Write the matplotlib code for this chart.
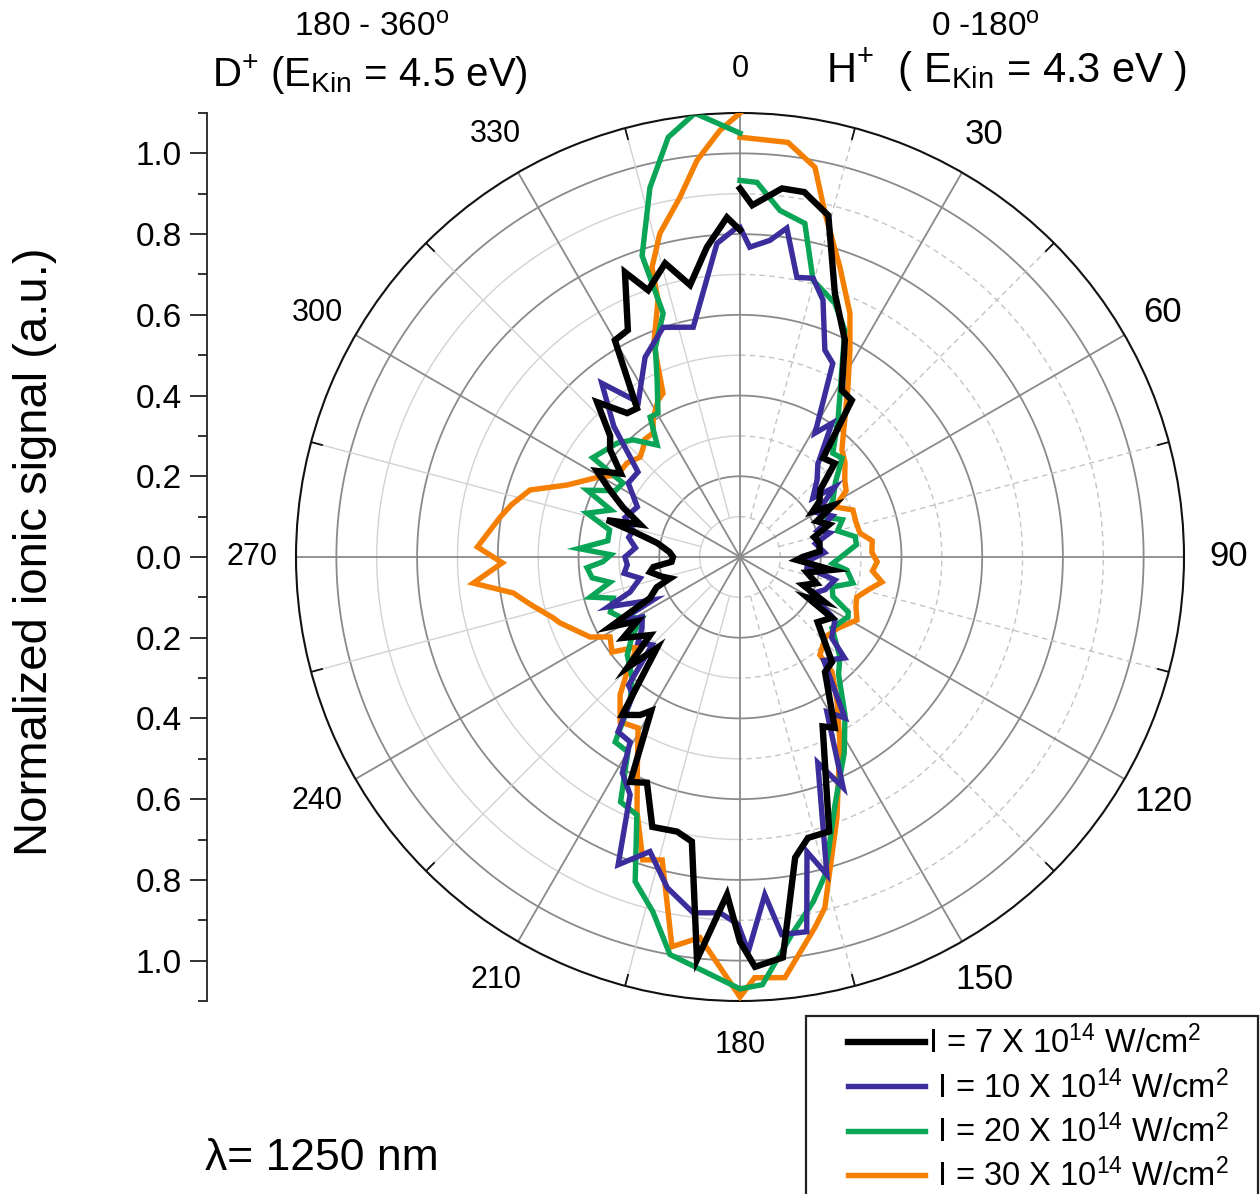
import numpy as np
import matplotlib
matplotlib.use('Agg')
import matplotlib.pyplot as plt
from matplotlib.ticker import FuncFormatter
from matplotlib.patches import Rectangle

plt.rcParams['font.family'] = ['Liberation Sans', 'DejaVu Sans']
plt.rcParams['mathtext.fontset'] = 'custom'
plt.rcParams['mathtext.rm'] = 'Liberation Sans'
plt.rcParams['mathtext.it'] = 'Liberation Sans:italic'
plt.rcParams['mathtext.default'] = 'regular'

# --- data: angle (deg, clockwise from top) and normalized signal ---
theta_i7 = [0, 2, 6.5, 10, 14.5, 19.8, 25.8, 31.4, 35.5, 40, 45.3, 50, 55, 58, 61, 65, 70, 75, 80, 86,
            90, 93, 98, 103, 109, 114, 118, 121, 123.5, 130, 138.8, 143.5, 151, 154, 162, 166.4, 169.6,
            173.9, 177.9, 180, 182.2, 186.1, 189.6, 192.9, 198, 202.4, 206, 210, 212.3, 216.7, 222.4,
            225.5, 229, 235.3, 238, 241.7, 245.5, 250, 253, 256, 260.5, 263.4, 266, 270, 274, 279.6, 283,
            285.5, 288, 293, 297, 301, 305, 309.5, 313, 317.3, 321.9, 325.3, 330, 333.7, 338, 341, 345.7,
            349.6, 353.9, 357.8, 360]
r_i7 = [0.913, 0.872, 0.919, 0.918, 0.874, 0.694, 0.597, 0.484, 0.477, 0.32, 0.33, 0.26, 0.24, 0.212,
        0.264, 0.21, 0.235, 0.19, 0.2, 0.198, 0.155, 0.141, 0.23, 0.17, 0.2, 0.171, 0.237, 0.195, 0.273,
        0.251, 0.346, 0.354, 0.484, 0.467, 0.715, 0.716, 0.757, 0.998, 1.016, 0.953, 0.837, 1.003, 0.715,
        0.698, 0.703, 0.605, 0.62, 0.44, 0.463, 0.488, 0.305, 0.392, 0.295, 0.352, 0.3, 0.365, 0.245,
        0.22, 0.181, 0.2, 0.226, 0.216, 0.17, 0.166, 0.175, 0.208, 0.262, 0.342, 0.26, 0.315, 0.36,
        0.414, 0.36, 0.417, 0.44, 0.522, 0.453, 0.448, 0.62, 0.627, 0.761, 0.699, 0.751, 0.685, 0.772,
        0.842, 0.81]

theta_i10 = [0, 1.8, 5.4, 8.1, 11.5, 14.7, 17.9, 22.3, 25.6, 31.2, 34.5, 40, 45, 51, 53.6, 60, 66, 71,
             75, 80, 87, 93, 99, 103.6, 111, 117, 123.5, 131.4, 134, 141, 146.9, 150.7, 155.9, 159.3,
             164.7, 167.2, 169.9, 173.7, 175.8, 178.8, 180.3, 183.2, 187.5, 192.4, 197, 201.6, 204.8,
             208.6, 210.7, 214.9, 217.8, 221, 225, 230, 234, 238.5, 241.8, 243.7, 249.3, 252.3, 258, 262,
             266, 270, 275, 280, 284, 289, 296, 303.5, 309.8, 312.3, 316, 321.5, 326.7, 334.6, 341.5,
             348.5, 355.8, 359.5]
r_i10 = [0.817, 0.768, 0.788, 0.823, 0.707, 0.714, 0.669, 0.554, 0.532, 0.359, 0.402, 0.3, 0.27, 0.232,
         0.292, 0.22, 0.25, 0.204, 0.23, 0.19, 0.21, 0.17, 0.168, 0.242, 0.226, 0.2, 0.282, 0.303, 0.36,
         0.33, 0.476, 0.44, 0.626, 0.545, 0.816, 0.749, 0.943, 0.941, 0.839, 0.978, 0.91, 0.883, 0.889,
         0.839, 0.763, 0.82, 0.649, 0.609, 0.533, 0.528, 0.432, 0.421, 0.308, 0.33, 0.3, 0.284, 0.346,
         0.24, 0.349, 0.286, 0.253, 0.29, 0.28, 0.285, 0.26, 0.28, 0.273, 0.301, 0.283, 0.332, 0.329,
         0.368, 0.45, 0.55, 0.459, 0.548, 0.6, 0.581, 0.779, 0.817]

theta_i20 = [0, 2.6, 6.6, 11, 14.8, 20.5, 24.8, 30, 35.6, 41.8, 45.9, 52, 58.5, 64.8, 70, 75, 80, 84, 90,
             94, 97, 103, 108, 113, 117, 119, 127.7, 135, 140, 146.4, 152, 159, 165, 168, 172.2, 177,
             180, 185, 190, 193.8, 197.9, 201.8, 206, 209.9, 214, 217.2, 222, 229, 234, 238, 243, 247,
             252, 255, 259, 262, 266, 268, 271, 273, 277, 281.7, 286, 290, 293.6, 298, 302.3, 304, 312.8,
             317.6, 323.5, 327.3, 330.3, 334.9, 338, 342.5, 342, 346.3, 350.3, 354.2, 360]
r_i20 = [0.933, 0.929, 0.864, 0.842, 0.709, 0.671, 0.619, 0.5, 0.417, 0.345, 0.352, 0.3, 0.27, 0.233,
         0.27, 0.25, 0.29, 0.29, 0.25, 0.23, 0.267, 0.287, 0.24, 0.25, 0.301, 0.306, 0.288, 0.35, 0.38,
         0.47, 0.55, 0.657, 0.815, 0.873, 0.944, 1.061, 1.07, 1.03, 1.0, 0.905, 0.845, 0.688, 0.675,
         0.557, 0.553, 0.45, 0.4, 0.37, 0.33, 0.286, 0.33, 0.349, 0.33, 0.384, 0.328, 0.37, 0.38, 0.34,
         0.32, 0.4, 0.33, 0.33, 0.394, 0.34, 0.413, 0.35, 0.343, 0.44, 0.415, 0.393, 0.345, 0.412, 0.41,
         0.484, 0.56, 0.633, 0.785, 0.942, 1.055, 1.105, 1.05]

theta_i30 = [0, 6.6, 10.9, 13.9, 19, 24.3, 28, 32.4, 38, 43.6, 48, 53.7, 58, 62.2, 67.4, 73, 78.7, 83, 88,
             92, 96, 100, 104, 109, 113, 118.3, 126, 133, 140.8, 141.3, 146, 151.6, 159.6, 166.4, 168.6,
             173.9, 178, 180, 186, 189.9, 194.4, 197.8, 202, 206, 210.8, 216, 221, 224.5, 228.9, 233.4,
             238.4, 241.9, 249.9, 252, 257, 261, 264.4, 268.6, 272.2, 279.5, 283, 287.7, 292.6, 299,
             303.7, 309.8, 315, 318.3, 321, 325, 328, 332.4, 334.8, 338, 342.3, 343.1, 346.1, 350.5,
             353.8, 357.3, 360]
r_i30 = [1.04, 1.034, 0.983, 0.877, 0.76, 0.662, 0.58, 0.499, 0.42, 0.366, 0.35, 0.322, 0.31, 0.266,
         0.303, 0.3, 0.303, 0.33, 0.327, 0.34, 0.33, 0.357, 0.33, 0.306, 0.312, 0.329, 0.3, 0.29, 0.313,
         0.365, 0.43, 0.52, 0.689, 0.894, 0.937, 1.048, 1.043, 1.09, 0.948, 0.98, 0.775, 0.788, 0.681,
         0.58, 0.493, 0.505, 0.453, 0.399, 0.339, 0.395, 0.378, 0.421, 0.475, 0.487, 0.53, 0.569, 0.664,
         0.589, 0.651, 0.602, 0.58, 0.546, 0.464, 0.406, 0.366, 0.364, 0.35, 0.361, 0.375, 0.375, 0.406,
         0.438, 0.448, 0.57, 0.668, 0.75, 0.826, 0.903, 0.988, 1.058, 1.1]

labels = ['I = 7 X 10$^{14}$ W/cm$^{2}$', ' I = 10 X 10$^{14}$ W/cm$^{2}$',
          ' I = 20 X 10$^{14}$ W/cm$^{2}$', ' I = 30 X 10$^{14}$ W/cm$^{2}$']
colors = ['#000000', '#3b2d9c', '#0aa557', '#f57f00']
angle_ticks = [0, 30, 60, 90, 120, 150, 180, 210, 240, 270, 300, 330]

RMAX = 1.1
W, H = 1260, 1194
fig = plt.figure(figsize=(W / 100, H / 100), dpi=100)

# polar axes: centre (740, 557) px, outer radius 444 px
cx, cy, rad = 740, 557, 444
ax = fig.add_axes([(cx - rad) / W, 1 - (cy + rad) / H, 2 * rad / W, 2 * rad / H], projection='polar')
ax.set_theta_zero_location('N')
ax.set_theta_direction(-1)
ax.set_ylim(0, RMAX)
ax.set_xticks([])
ax.set_yticks([])
ax.grid(False)
ax.spines['polar'].set_color('#111111')
ax.spines['polar'].set_linewidth(1.5)

# grid: right half dashed minor lines, left half solid minor lines
t_right = np.linspace(0, np.pi, 300)
t_left = np.linspace(np.pi, 2 * np.pi, 300)
for k in range(1, 11):
    rr = k / 10
    if k % 2 == 0:
        ax.plot(np.linspace(0, 2 * np.pi, 600), np.full(600, rr), color='#8a8a8a', lw=1.3, zorder=1)
    else:
        ax.plot(t_right, np.full(300, rr), color='#c4c4c4', lw=1.0, ls=(0, (4, 3)), zorder=1)
        ax.plot(t_left, np.full(300, rr), color='#d2d2d2', lw=1.0, zorder=1)
for a in angle_ticks:
    ax.plot([np.deg2rad(a)] * 2, [0, RMAX], color='#8a8a8a', lw=1.3, zorder=1)
for a in range(15, 360, 30):
    if a < 180:
        ax.plot([np.deg2rad(a)] * 2, [0.1, RMAX], color='#c4c4c4', lw=1.0, ls=(0, (4, 3)), zorder=1)
    else:
        ax.plot([np.deg2rad(a)] * 2, [0.1, RMAX], color='#d2d2d2', lw=1.0, zorder=1)
    ax.plot([np.deg2rad(a)] * 2, [RMAX - 0.028, RMAX], color='#111111', lw=1.3, zorder=2)

# angle labels
for a in angle_ticks:
    fs = 25 if 0 < a < 180 else 22
    ax.text(np.deg2rad(a), 1.21, str(a), ha='center', va='center', fontsize=fs, clip_on=False)

# data, orange drawn first, black last
all_series = [(theta_i7, r_i7), (theta_i10, r_i10), (theta_i20, r_i20), (theta_i30, r_i30)]
lines = [None] * 4
for idx in [3, 2, 1, 0]:
    th, rv = all_series[idx]
    lw = 4.6 if idx == 0 else 3.9
    ln, = ax.plot(np.deg2rad(th), rv, color=colors[idx], lw=lw, solid_joinstyle='miter', zorder=3)
    lines[idx] = ln

# left linear axis with mirrored labels
bot_px = cy + rad
lax = fig.add_axes([207 / W, 1 - bot_px / H, 0.001, 2 * rad / H])
lax.set_ylim(-RMAX, RMAX)
for s in ['top', 'right', 'bottom']:
    lax.spines[s].set_visible(False)
lax.spines['left'].set_color('#222222')
lax.spines['left'].set_linewidth(1.3)
lax.set_xticks([])
lax.set_yticks(np.round(np.arange(-1.0, 1.01, 0.2), 1))
lax.set_yticks(np.round(np.arange(-1.1, 1.11, 0.2), 1), minor=True)
lax.yaxis.set_major_formatter(FuncFormatter(lambda v, p: f"{abs(v):.1f}"))
lax.tick_params(axis='y', which='major', length=12, width=1.3, labelsize=24, pad=6, color='#222222')
lax.tick_params(axis='y', which='minor', length=6.5, width=1.3, color='#222222')
lax.patch.set_visible(False)

fig.text(35 / W, 1 - 552 / H, 'Normalized ionic signal (a.u.)', rotation=90, ha='center', va='center',
         fontsize=34)

# headers
fig.text(372 / W, 1 - 28 / H, '180 - 360$^{\\mathrm{o}}$', ha='center', va='center', fontsize=24)
fig.text(212 / W, 1 - 75 / H, 'D$^{+}$ (E$_{\\mathrm{Kin}}$ = 4.5 eV)', ha='left', va='center', fontsize=29)
fig.text(985 / W, 1 - 28 / H, '0 -180$^{\\mathrm{o}}$', ha='center', va='center', fontsize=24)
fig.text(826 / W, 1 - 70 / H, 'H$^{+}$  ( E$_{\\mathrm{Kin}}$ = 4.3 eV )', ha='left', va='center', fontsize=30)
fig.text(205 / W, 1 - 1158 / H, '\u03bb= 1250 nm', ha='left', va='center', fontsize=32)

# legend with a hand-drawn frame that runs off the bottom edge
leg = fig.legend(lines, labels, loc='upper left', bbox_to_anchor=(848 / W, 1 - 1026 / H),
                 frameon=False, fontsize=23.5, handlelength=2.35, handletextpad=0.1,
                 labelspacing=0.3, borderpad=0, borderaxespad=0)
fig.patches.append(Rectangle((806 / W, -0.01), (1258 - 806) / W, 0.01 + (1194 - 1016) / H,
                             transform=fig.transFigure, fill=False, edgecolor='#222222', lw=1.6))

fig.savefig('out.png', dpi=100)
